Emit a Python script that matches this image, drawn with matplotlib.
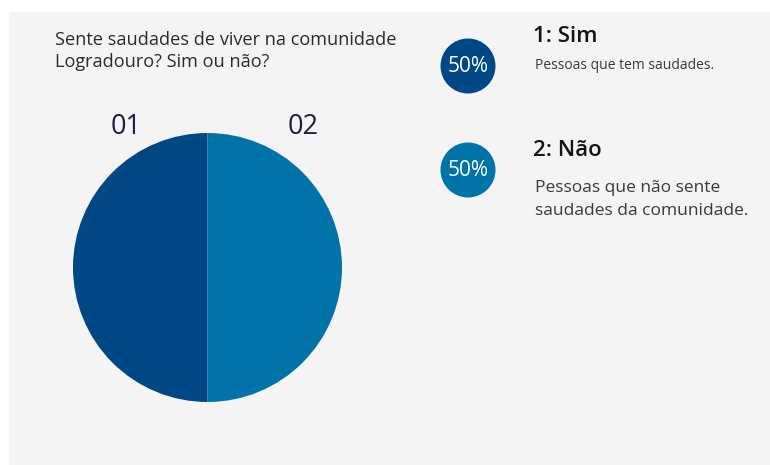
import numpy as np
import matplotlib.pyplot as plt
from matplotlib.patches import Circle, Rectangle

plt.rcParams['font.family'] = ['Open Sans', 'DejaVu Sans']

#%% data
categories = ['01', '02']
values = [50, 50]
legend_titles = ['1: Sim', '2: Não']
legend_texts = ['Pessoas que tem saudades.',
                'Pessoas que não sente\nsaudades da comunidade.']
question = 'Sente saudades de viver na comunidade\nLogradouro? Sim ou não?'

colors = ['#004785', '#0073a8']

#%% figure in pixel coordinates (y measured from bottom)
W, H = 770, 465
fig = plt.figure(figsize=(W / 100, H / 100), dpi=100)
ax = fig.add_axes([0, 0, 1, 1])

ax.pie(values, colors=colors, startangle=90, center=(207.5, H - 267.5),
       radius=134.5, frame=True)
ax.set_xlim(0, W)
ax.set_ylim(0, H)
ax.set_aspect('equal')
ax.axis('off')

# grey panel behind everything
ax.add_patch(Rectangle((9, 0), W - 9, H - 12, facecolor='#f4f4f4',
                       edgecolor='none', zorder=-10))

def put_lines(x, y0, text, step, **kw):
    # one text per line so the spacing follows the reference
    for k, line in enumerate(text.split('\n')):
        ax.text(x, H - (y0 + k * step), line, ha='left', va='center', **kw)

put_lines(55, 40, question, 22.5, fontsize=13.1, color='#2b2b2b')

# wedge labels
label_x = [126, 303]
for lx, cat in zip(label_x, categories):
    ax.text(lx, H - 127, cat, fontsize=19.5, color='#1c1f4e',
            ha='center', va='center', fontweight='medium')

# legend circles with percentages
circ_y = [66, 170]
total = sum(values)
for i, v in enumerate(values):
    cy = H - circ_y[i]
    ax.add_patch(Circle((468, cy), 27.5, facecolor=colors[i],
                        edgecolor='none'))
    ax.text(468, cy - 1, f'{round(100 * v / total)}%', fontsize=15,
            color='white', ha='center', va='center')

title_y = [37, 150]
desc_y = [66, 188]
desc_size = [10, 12.5]
for i in range(len(values)):
    ax.text(533, H - title_y[i], legend_titles[i], fontsize=16,
            color='#151515', ha='left', va='center', fontweight='semibold')
    put_lines(535, desc_y[i], legend_texts[i], 23,
              fontsize=desc_size[i], color='#3a3a3a')

fig.savefig('out.png', dpi=100, facecolor='white')
